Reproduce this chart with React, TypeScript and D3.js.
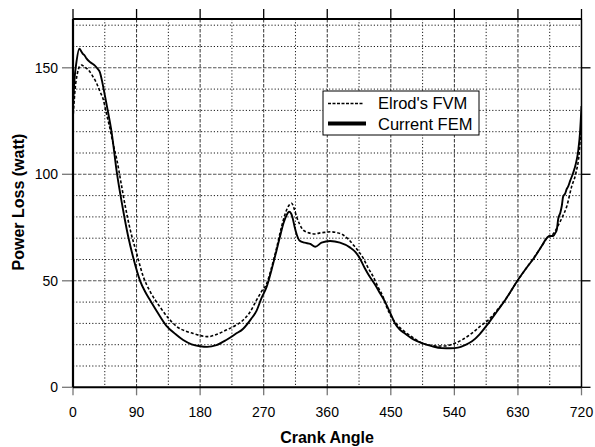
import React from "react";
import * as d3 from "d3";

const femAngle = [0, 2, 5, 9, 12, 14, 16, 19, 25, 31, 35, 38, 41, 44, 48, 55, 62, 70, 78, 86, 95, 102, 109, 120, 132, 145, 156, 168, 180, 190, 203, 217, 230, 241, 252, 260, 267, 274, 281, 288, 294, 298, 302, 306, 309, 311, 314, 317, 321, 328, 336, 343, 352, 364, 378, 392, 400, 406, 413, 420, 428, 435, 442, 449, 456, 463, 470, 482, 494, 508, 522, 535, 545, 555, 565, 576, 588, 600, 612, 630, 642, 654, 663, 673, 677, 680, 683, 685, 687, 690, 692, 694, 697, 699, 701, 704, 708, 712, 715.5, 718, 720];
const femLoss = [132, 144, 153, 159, 157.5, 156.5, 156, 154.4, 152.5, 151, 149.5, 148, 144, 139, 132, 119, 101, 85, 71, 60, 50, 45, 41, 35, 29, 25, 22.2, 20.2, 19.3, 19, 19.8, 22.2, 25, 27.5, 32, 36, 42, 47, 55, 64, 72, 77, 80.5, 82.4, 81.5, 79.5, 75, 71.5, 68.8, 67.9, 67.3, 66, 67.9, 68.7, 67.9, 65.7, 63.5, 60.6, 56, 52, 48, 44, 40, 35, 30, 27, 25.3, 22.5, 20.7, 19.3, 18.4, 18.3, 18.6, 19.8, 21.6, 25, 30, 35.5, 41, 50.4, 56, 61.3, 66, 70.7, 71, 71, 72.5, 74, 79, 82, 85, 89.5, 91, 93, 94.2, 97, 100.5, 105, 111.4, 120, 132];

const fvmAngle = [0, 3, 6, 9, 12, 16, 21.7, 28, 33.5, 38, 43, 47, 52, 57, 62, 68, 74, 81, 90, 99.5, 110, 123, 135, 147, 160, 170, 180, 191.6, 203, 217.6, 230, 241, 250, 260, 267, 274, 281, 288, 295, 300, 305, 309.6, 313, 316.7, 321, 326, 334, 342.6, 350, 359, 365, 371, 382.7, 390, 397, 404, 411, 418, 425, 432, 439, 445, 451, 460, 470, 479.5, 490, 503, 515, 527, 535, 541, 552, 564.5, 576, 588, 600, 612, 630, 642, 654, 663, 673, 680, 687, 693, 699, 706, 712, 717, 719, 720];
const fvmLoss = [126, 140, 147, 150.5, 151.3, 150.5, 149, 146, 142.7, 139, 135, 129, 122, 114, 107, 96, 85, 74, 63, 52, 44.5, 37.8, 32.5, 28.5, 26.3, 25.3, 24.3, 23.8, 24.8, 27, 29, 31.6, 35, 41, 45, 48.5, 56, 65, 75, 81, 85, 86.4, 84, 80, 76.5, 73.8, 72.5, 72, 72.5, 72.8, 73, 72.8, 71.5, 69.5, 66.8, 64, 60.6, 56, 52, 47, 42.5, 37, 33, 29, 26, 23.8, 21.5, 19.9, 19.4, 19.4, 20, 20.7, 22.5, 25.3, 28.5, 31.6, 36, 41, 50.4, 56, 61.5, 66, 70.7, 72, 76, 80, 84.8, 94.2, 100.5, 111, 120.8, 126];

const xTicks = [0, 90, 180, 270, 360, 450, 540, 630, 720];
const xMinor = [45, 135, 225, 315, 405, 495, 585, 675];
const yTicks = [0, 50, 100, 150];
const yMinor = [10, 20, 30, 40, 60, 70, 80, 90, 110, 120, 130, 140, 160, 170];
const seriesNames = ["Elrod's FVM", "Current FEM"];

const W = 595, H = 447;
const left = 73, right = 581.5, top = 19, bottom = 387.3;
const font = "Arial, 'Liberation Sans', Helvetica, sans-serif";

export default function App() {
  const x = d3.scaleLinear().domain([0, 720]).range([left, right]);
  const y = d3.scaleLinear().domain([0, 50]).range([bottom, bottom - 106.5]);
  const line = d3.line<[number, number]>().x(d => x(d[0])).y(d => y(d[1])).curve(d3.curveMonotoneX);
  const fem = femAngle.map((a, i) => [a, femLoss[i]] as [number, number]);
  const fvm = fvmAngle.map((a, i) => [a, fvmLoss[i]] as [number, number]);

  return (
    <svg width={W} height={H} style={{ position: "absolute", left: 0, top: 0, background: "#fff" }} fontFamily={font}>
      <defs>
        <clipPath id="clip"><rect x={left} y={top} width={right - left} height={bottom - top} /></clipPath>
      </defs>
      {yMinor.map(v => (
        <line key={"ym" + v} x1={left} x2={right} y1={y(v)} y2={y(v)} stroke="#000" strokeWidth={0.9} strokeDasharray="1.2,2" />
      ))}
      {xMinor.map(v => (
        <line key={"xm" + v} x1={x(v)} x2={x(v)} y1={top} y2={bottom} stroke="#000" strokeWidth={0.9} strokeDasharray="1.2,2" />
      ))}
      {yTicks.slice(1).map(v => (
        <line key={"yM" + v} x1={left} x2={right} y1={y(v)} y2={y(v)} stroke="#555" strokeWidth={1.1} strokeDasharray="3.5,1.5" />
      ))}
      {xTicks.slice(1, -1).map(v => (
        <line key={"xM" + v} x1={x(v)} x2={x(v)} y1={top} y2={bottom} stroke="#333" strokeWidth={1} strokeDasharray="3.5,1.5" />
      ))}
      {xTicks.map(v => (
        <g key={"xt" + v}>
          <line x1={x(v)} x2={x(v)} y1={bottom} y2={bottom + 8} stroke="#777" strokeWidth={1.3} />
          <line x1={x(v)} x2={x(v)} y1={top - 10} y2={top} stroke="#000" strokeWidth={1.3} />
          <text x={x(v)} y={416.5} textAnchor="middle" fontSize={14}>{v}</text>
        </g>
      ))}
      {yTicks.map(v => (
        <g key={"yt" + v}>
          <line x1={left - 11} x2={left} y1={y(v)} y2={y(v)} stroke="#777" strokeWidth={1.3} />
          <line x1={right} x2={right + 9} y1={y(v)} y2={y(v)} stroke="#000" strokeWidth={1.3} />
          <text x={58} y={y(v) + 5} textAnchor="end" fontSize={14}>{v}</text>
        </g>
      ))}
      <g clipPath="url(#clip)">
        <path d={line(fvm) || ""} fill="none" stroke="#000" strokeWidth={1.6} strokeDasharray="3,2" />
        <path d={line(fem) || ""} fill="none" stroke="#000" strokeWidth={1.9} />
      </g>
      <line x1={left} x2={right} y1={top} y2={top} stroke="#000" strokeWidth={2} />
      <line x1={right} x2={right} y1={top} y2={bottom} stroke="#000" strokeWidth={1.5} />
      <line x1={left} x2={right} y1={bottom} y2={bottom} stroke="#000" strokeWidth={2} />
      <line x1={left} x2={left} y1={top} y2={bottom} stroke="#000" strokeWidth={2.2} />
      <rect x={323} y={91} width={156} height={44} fill="#fff" stroke="#000" strokeWidth={1} />
      <line x1={328} x2={364} y1={103.5} y2={103.5} stroke="#000" strokeWidth={1.3} strokeDasharray="3,1.5" />
      <line x1={328} x2={366} y1={123.5} y2={123.5} stroke="#000" strokeWidth={4} />
      <text x={378} y={108.5} fontSize={16.5}>{seriesNames[0]}</text>
      <text x={378} y={129.5} fontSize={16.5}>{seriesNames[1]}</text>
      <text x={327} y={442.5} textAnchor="middle" fontSize={16} fontWeight="bold">Crank Angle</text>
      <text transform="translate(24,202) rotate(-90)" textAnchor="middle" fontSize={16} fontWeight="bold">Power Loss (watt)</text>
    </svg>
  );
}
